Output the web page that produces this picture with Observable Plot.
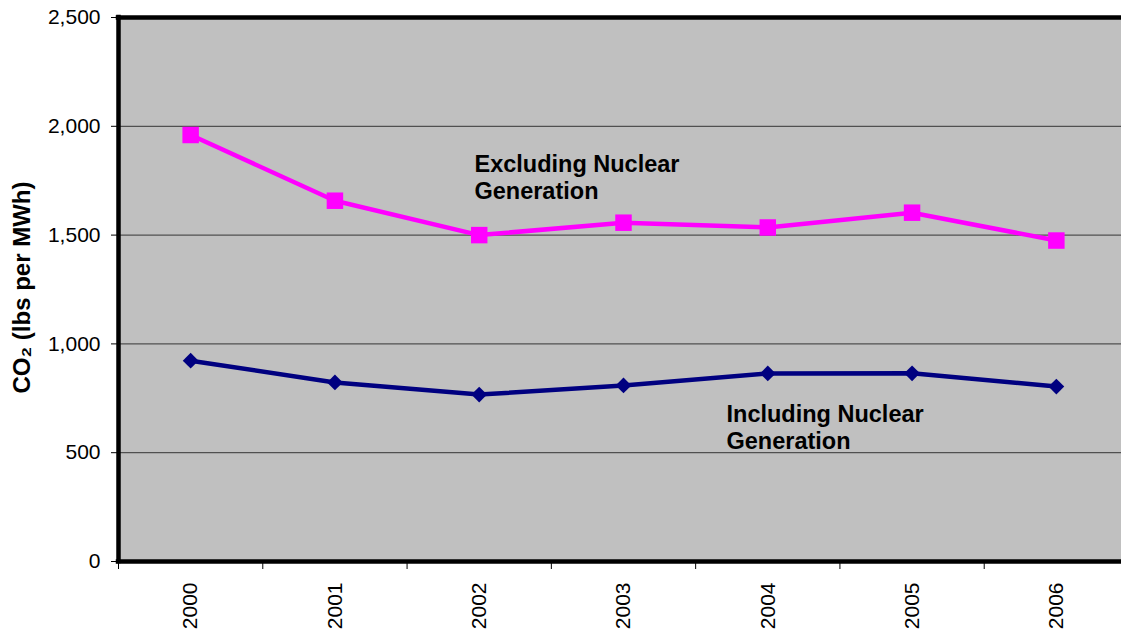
<!DOCTYPE html>
<html><head><meta charset="utf-8">
<script src="https://cdn.jsdelivr.net/npm/d3@7"></script>
<script src="https://cdn.jsdelivr.net/npm/@observablehq/plot@0.6"></script>
<style>html,body{margin:0;padding:0;overflow:hidden;background:#fff;width:1121px;height:635px}#chart{width:1121px;height:635px;overflow:hidden}#chart svg{max-width:none!important;display:block}</style>
</head><body><div id="chart"></div>
<script>
const years = [2000, 2001, 2002, 2003, 2004, 2005, 2006];
const excludingNuclear = [1960, 1658, 1500, 1557, 1535, 1603, 1475];
const includingNuclear = [923, 823, 767, 809, 864, 865, 804];
const yTicks = [0, 500, 1000, 1500, 2000, 2500];
const gridValues = [500, 1000, 1500, 2000];
const excludingLabel = "Excluding Nuclear\nGeneration";
const includingLabel = "Including Nuclear\nGeneration";
const yLabel = "CO₂ (lbs per MWh)";

const excl = years.map((year, i) => ({year, value: excludingNuclear[i]}));
const incl = years.map((year, i) => ({year, value: includingNuclear[i]}));
const edges = years.map(y => y - 0.5).concat([years[years.length - 1] + 0.5]);

const font = "Arial, 'Liberation Sans', sans-serif";

const chart = Plot.plot({
  width: 1140,
  height: 635,
  marginLeft: 118,
  marginRight: 0,
  marginTop: 17,
  marginBottom: 74,
  style: {fontFamily: font, background: "#fff", overflow: "hidden", maxWidth: "none"},
  x: {type: "linear", domain: [edges[0], edges[edges.length - 1]], range: [118, 1128], axis: null},
  y: {domain: [0, 2500], axis: null},
  marks: [
    Plot.frame({fill: "#C0C0C0"}),
    Plot.ruleY(gridValues, {stroke: "#505050", strokeWidth: 1.2}),
    Plot.line(excl, {x: "year", y: "value", stroke: "#FF00FF", strokeWidth: 4.5}),
    Plot.dot(excl, {x: "year", y: "value", symbol: "square", r: 9.3, fill: "#FF00FF"}),
    Plot.line(incl, {x: "year", y: "value", stroke: "#000080", strokeWidth: 4.5}),
    Plot.dot(incl, {x: "year", y: "value", symbol: "diamond2", r: 7.1, fill: "#000080"}),
    Plot.text([excludingLabel], {x: 2001.967, y: 1881, text: d => d, textAnchor: "start", lineAnchor: "top", lineHeight: 1.16, fontSize: 23.5, fontWeight: "bold", fill: "#000"}),
    Plot.text([includingLabel], {x: 2003.714, y: 732, text: d => d, textAnchor: "start", lineAnchor: "top", lineHeight: 1.16, fontSize: 23.5, fontWeight: "bold", fill: "#000"}),
    Plot.ruleX([edges[0]], {stroke: "#000", strokeWidth: 4.5, strokeLinecap: "square"}),
    Plot.ruleY([0, 2500], {stroke: "#000", strokeWidth: 4.5, strokeLinecap: "square"}),
    Plot.axisY({ticks: yTicks, tickSize: 7, tickPadding: 11, tickFormat: d3.format(","), fontSize: 21, label: null, stroke: "#000", fill: "#000"}),
    Plot.axisX({ticks: years, tickSize: 0, tickPadding: 21, tickRotate: -90, tickFormat: d => String(d), fontSize: 21, label: null, fill: "#000"}),
    Plot.axisX({ticks: edges, tickSize: 8, tickFormat: () => "", label: null, stroke: "#000"}),
    Plot.text([yLabel], {frameAnchor: "left", textAnchor: "middle", rotate: -90, dx: -96, dy: -2, text: d => d, fontSize: 24, fontWeight: "bold", fill: "#000"})
  ]
});
document.getElementById("chart").appendChild(chart);
</script>
</body></html>
